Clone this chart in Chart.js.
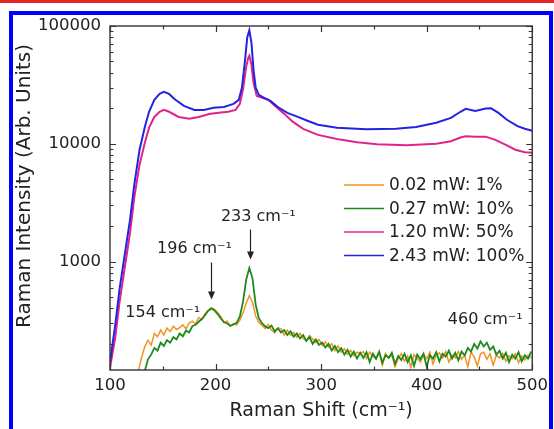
<!DOCTYPE html>
<html><head><meta charset="utf-8">
<script src="https://cdn.jsdelivr.net/npm/chart.js@4"></script>
<style>
html,body{margin:0;padding:0;background:#fff;width:554px;height:429px;overflow:hidden;}
#red{position:absolute;left:0;top:0;width:554px;height:3px;background:#e3242b;}
#frame{position:absolute;left:9px;top:11px;width:536px;height:500px;border:4px solid #0000ff;}
#wrap{position:absolute;left:0;top:0;width:554px;height:429px;}
</style></head><body>
<div id="red"></div><div id="frame"></div>
<div id="wrap"><canvas id="c" width="554" height="429"></canvas></div>
<script>
const seriesLabels = ['0.02 mW: 1%', '0.27 mW: 10%', '1.20 mW: 50%', '2.43 mW: 100%'];
const seriesColors = ['#f39322', '#1e8a1e', '#e2238b', '#2424e0'];

const xTickLabels = [100, 200, 300, 400, 500];
const xMinorTicks = [150, 250, 350, 450];
const yTickLabels = [1000, 10000, 100000];
const yMinorTicks = [200,300,400,500,600,700,800,900,2000,3000,4000,5000,6000,7000,8000,9000,20000,30000,40000,50000,60000,70000,80000,90000];

// 2.43 mW (blue)
const blueShift = [100,105,109,114,119,123,128,133,137,142,147,151,156,161,170,180,189,198,208,217,222,225,228,230,232,234,236,238,241,246,252,259,268,278,287,297,315,343,371,390,409,423,432,437,446,456,461,468,476,486,493,500];
const blueVals  = [140,292,580,1150,2270,4500,8900,13900,18700,23600,26500,27600,26500,24000,21000,19400,19400,20200,20500,21800,23600,30000,52000,80000,92000,72000,42000,30000,26000,24500,23100,20500,18300,16900,15700,14500,13700,13300,13400,13900,15100,16600,18700,19800,19000,19900,20000,18300,16000,14100,13400,12900];

// 1.20 mW (pink)
const pinkShift = [100,105,109,114,119,123,128,133,137,142,147,151,156,165,175,184,194,203,212,219,223,226,229,231,232,234,236,239,245,250,255,264,273,283,297,315,334,353,381,409,423,432,437,446,456,465,475,484,493,500];
const pinkVals  = [125,227,450,890,1760,3490,6640,10200,13700,16900,18700,19400,18700,16900,16300,16900,17900,18300,18700,19400,21800,29000,45000,54000,56000,47000,33000,25500,24500,23600,21400,18300,15400,13400,11900,11000,10300,9900,9700,10000,10500,11300,11600,11500,11500,10800,9800,8900,8470,8400];

// low power spectra (orange, green)
const noisyShift = [
 127,130,133,136,139,142,145,148,151,154,
 157,160,163,166,169,172,175,178,181,184,
 187,190,193,196,199,202,205,208,211,214,
 217,220,223,226,229,232,235,238,241,244,
 247,250,253,256,259,262,265,268,271,274,
 277,280,283,286,289,292,295,298,301,304,
 307,310,313,316,319,322,325,328,331,334,
 337,340,343,346,349,352,355,358,361,364,
 367,370,373,376,379,382,385,388,391,394,
 397,400,403,406,409,412,415,418,421,424,
 427,430,433,436,439,442,445,448,451,454,
 457,460,463,466,469,472,475,478,481,484,
 487,490,493,496,499];
const orangeVals = [
 118,155,190,215,195,245,230,262,238,272,
 255,283,265,275,290,268,300,312,295,335,
 322,360,385,405,392,368,340,305,312,282,
 298,290,318,365,445,515,450,345,305,288,
 270,292,262,248,275,268,238,262,236,250,
 228,245,222,212,236,220,205,218,195,208,
 188,200,175,192,170,182,163,176,158,170,
 165,172,150,170,158,148,168,132,166,152,
 160,128,150,165,142,158,126,162,150,140,
 163,150,170,135,160,168,152,172,140,160,
 152,172,148,160,128,170,155,130,165,170,
 148,165,132,160,152,166,142,158,150,165,
 138,158,146,160,152];
const greenVals = [
 null,null,118,148,162,185,175,205,192,215,
 205,228,218,245,232,260,250,282,290,308,
 325,350,382,400,385,358,328,305,298,285,
 292,302,342,455,700,880,720,430,330,300,
 282,272,286,256,270,250,262,238,256,230,
 245,222,238,212,228,200,218,196,205,186,
 200,176,192,170,184,162,178,156,172,150,
 168,152,170,140,165,150,172,138,160,152,
 168,135,158,146,165,140,160,130,162,148,
 165,128,160,150,170,142,165,156,175,150,
 168,145,172,160,185,172,200,182,210,190,
 205,178,190,162,175,150,168,140,162,150,
 170,142,160,150,172];

const annotations = [
 {text:'154 cm\u207B\u00B9', x:150, y:370},
 {text:'196 cm\u207B\u00B9', x:180, y:1290, arrowX:196, arrowFrom:982, arrowTo:476},
 {text:'233 cm\u207B\u00B9', x:240.5, y:2400, arrowX:233, arrowFrom:1870, arrowTo:1040},
 {text:'460 cm\u207B\u00B9', x:455.5, y:322}
];

const FONT = "'DejaVu Sans', 'Liberation Sans', sans-serif";
const pts = (xs, ys) => xs.map((s, i) => ({x: s, y: ys[i]}));

const decor = {
  id: 'decor',
  afterDatasetsDraw(chart) {
    const {ctx, chartArea: a, scales: {x, y}} = chart;
    ctx.save();
    // frame
    ctx.strokeStyle = '#333'; ctx.lineWidth = 1.4;
    ctx.strokeRect(a.left, a.top, a.right - a.left, a.bottom - a.top);
    ctx.beginPath();
    const xt = (vals, len) => vals.forEach(v => {
      const p = Math.round(x.getPixelForValue(v)) + 0.5;
      ctx.moveTo(p, a.bottom); ctx.lineTo(p, a.bottom - len);
      ctx.moveTo(p, a.top); ctx.lineTo(p, a.top + len);
    });
    const yt = (vals, len) => vals.forEach(v => {
      const p = Math.round(y.getPixelForValue(v)) + 0.5;
      ctx.moveTo(a.left, p); ctx.lineTo(a.left + len, p);
      ctx.moveTo(a.right, p); ctx.lineTo(a.right - len, p);
    });
    xt(xTickLabels, 6); xt(xMinorTicks, 3.5);
    yt(yTickLabels, 6); yt(yMinorTicks, 3.5);
    ctx.lineWidth = 1.2; ctx.stroke();

    // legend
    ctx.font = '17px ' + FONT; ctx.textBaseline = 'middle'; ctx.textAlign = 'left';
    chart.data.datasets.forEach((ds, i) => {
      const yy = 185 + i * 23.5;
      ctx.strokeStyle = ds.borderColor; ctx.lineWidth = 1.5;
      ctx.beginPath(); ctx.moveTo(344, yy); ctx.lineTo(384, yy); ctx.stroke();
      ctx.fillStyle = '#222'; ctx.fillText(ds.label, 389, yy + 1);
    });

    // annotations
    ctx.font = '16px ' + FONT; ctx.textAlign = 'center'; ctx.fillStyle = '#222';
    annotations.forEach(an => {
      ctx.fillText(an.text, x.getPixelForValue(an.x), y.getPixelForValue(an.y));
      if (an.arrowX !== undefined) {
        const px = Math.round(x.getPixelForValue(an.arrowX)) + 0.5;
        const y0 = y.getPixelForValue(an.arrowFrom), y1 = y.getPixelForValue(an.arrowTo);
        ctx.strokeStyle = '#222'; ctx.lineWidth = 1.2;
        ctx.beginPath(); ctx.moveTo(px, y0); ctx.lineTo(px, y1 - 6); ctx.stroke();
        ctx.beginPath(); ctx.moveTo(px - 3.5, y1 - 8); ctx.lineTo(px + 3.5, y1 - 8); ctx.lineTo(px, y1); ctx.closePath(); ctx.fill();
      }
    });

    // axis titles
    ctx.font = '19px ' + FONT; ctx.textAlign = 'center'; ctx.textBaseline = 'middle';
    ctx.fillText('Raman Shift (cm\u207B\u00B9)', (a.left + a.right) / 2, 411);
    ctx.save();
    ctx.translate(25, 186); ctx.rotate(-Math.PI / 2);
    ctx.font = '20px ' + FONT;
    ctx.fillText('Raman Intensity (Arb. Units)', 0, 0);
    ctx.restore();
    ctx.restore();
  }
};

new Chart(document.getElementById('c'), {
  type: 'line',
  data: {
    datasets: [
      {label: seriesLabels[0], data: pts(noisyShift, orangeVals), borderColor: seriesColors[0], borderWidth: 1.5, order: 1},
      {label: seriesLabels[1], data: pts(noisyShift, greenVals), borderColor: seriesColors[1], borderWidth: 1.8, order: 0},
      {label: seriesLabels[2], data: pts(pinkShift, pinkVals), borderColor: seriesColors[2], borderWidth: 2, order: 3},
      {label: seriesLabels[3], data: pts(blueShift, blueVals), borderColor: seriesColors[3], borderWidth: 2, order: 2}
    ]
  },
  options: {
    responsive: false, animation: false,
    layout: {padding: {top: 26, right: 17, left: 0, bottom: 0}},
    elements: {point: {radius: 0}, line: {tension: 0}},
    plugins: {legend: {display: false}, tooltip: {enabled: false}},
    scales: {
      x: {
        type: 'linear', min: 100, max: 500,
        afterBuildTicks(s) { s.ticks = xTickLabels.map(v => ({value: v})); },
        ticks: {padding: 6, color: '#222', font: {family: FONT, size: 16.5}, maxRotation: 0, autoSkip: false},
        grid: {display: false, drawTicks: false}, border: {display: false},
        afterFit(s) { s.height = 59; }
      },
      y: {
        type: 'logarithmic', min: 120, max: 100000,
        afterBuildTicks(s) { s.ticks = yTickLabels.map(v => ({value: v})); },
        ticks: {padding: 9, color: '#222', font: {family: FONT, size: 16.5}, autoSkip: false, callback: v => String(v)},
        grid: {display: false, drawTicks: false}, border: {display: false},
        afterFit(s) { s.width = 110; }
      }
    }
  },
  plugins: [decor]
});
</script>
</body></html>
